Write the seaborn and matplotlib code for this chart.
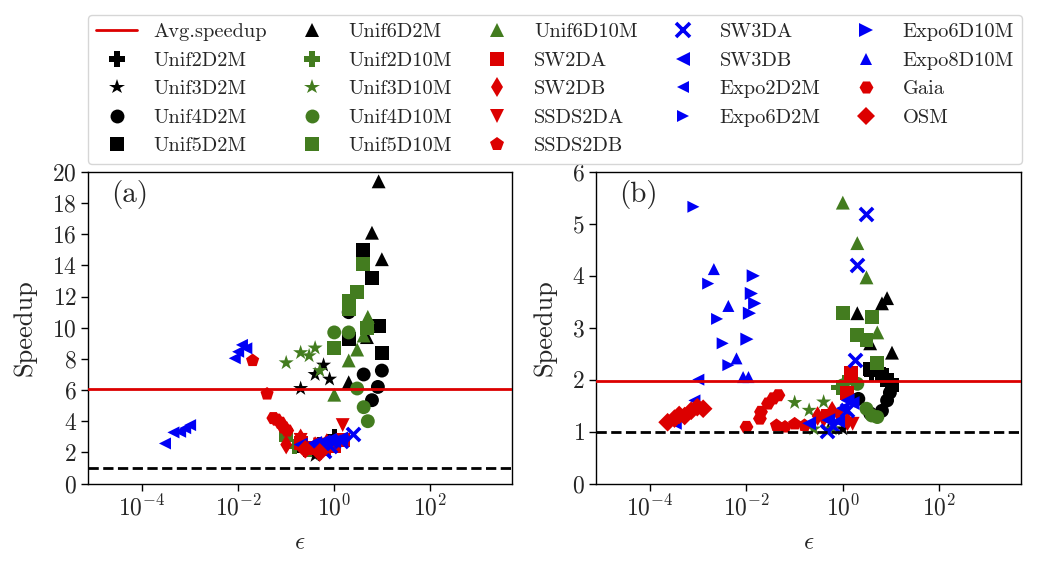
import numpy as np
import matplotlib
matplotlib.use("Agg")
import matplotlib.pyplot as plt
from matplotlib.lines import Line2D
from matplotlib.ticker import FixedLocator, NullLocator, LogFormatterSciNotation
import seaborn as sns

# ---------------- data: panel (a) ----------------
a_unif2d2m_eps = [0.25, 0.5, 1.0];                 a_unif2d2m_spd = [2.2, 2.5, 3.0]
a_unif3d2m_eps = [0.2, 0.4, 0.6, 0.8, 0.4];        a_unif3d2m_spd = [6.1, 7.0, 7.6, 6.7, 1.8]
a_unif4d2m_eps = [2.0, 4.1, 6.1, 8.1, 9.8];        a_unif4d2m_spd = [11.0, 7.0, 5.35, 6.2, 7.25]
a_unif5d2m_eps = [0.2, 2.0, 4.0, 6.1, 8.4, 9.8];   a_unif5d2m_spd = [2.4, 9.3, 15.0, 13.2, 10.1, 8.4]
a_unif6d2m_eps = [2.0, 4.8, 6.1, 8.4, 9.8];        a_unif6d2m_spd = [6.5, 9.4, 16.1, 19.4, 14.4]
a_unif2d10m_eps = [0.15, 0.3, 0.5];                a_unif2d10m_spd = [2.4, 2.2, 2.0]
a_unif3d10m_eps = [0.1, 0.2, 0.3, 0.4, 0.5];       a_unif3d10m_spd = [7.75, 8.4, 8.2, 8.7, 7.25]
a_unif4d10m_eps = [1.0, 2.0, 3.0, 4.1, 5.0];       a_unif4d10m_spd = [9.7, 9.7, 6.1, 4.9, 4.0]
a_unif5d10m_eps = [0.1, 1.0, 2.0, 2.0, 3.0, 4.0, 4.8]
a_unif5d10m_spd = [3.1, 8.7, 11.2, 11.7, 12.3, 14.1, 10.0]
a_unif6d10m_eps = [1.0, 2.0, 3.0, 4.1, 5.0, 5.0];  a_unif6d10m_spd = [5.7, 7.9, 8.6, 9.5, 10.2, 10.7]
a_sw2da_eps = [0.2, 0.35, 0.6, 1.0, 1.5];          a_sw2da_spd = [2.6, 2.3, 2.2, 2.4, 2.8]
a_sw2db_eps = [0.1, 0.2, 0.4, 0.7];                a_sw2db_spd = [2.5, 2.9, 2.4, 2.6]
a_ssds2da_eps = [1.5, 0.2, 0.5];                   a_ssds2da_spd = [3.75, 2.8, 2.5]
a_ssds2db_eps = [0.02, 0.04];                      a_ssds2db_spd = [7.9, 5.75]
a_sw3da_eps = [2.5, 1.4, 0.6, 0.8];                a_sw3da_spd = [3.2, 2.7, 2.1, 2.4]
a_sw3db_eps = [0.2, 0.3, 0.4, 0.5, 0.6, 0.8, 1.0, 1.4]
a_sw3db_spd = [2.5, 2.4, 2.6, 2.5, 2.7, 2.8, 2.7, 2.9]
a_expo2d2m_eps = [3.0e-4, 4.5e-4, 6.2e-4, 7.9e-4, 1.0e-3, 0.0085, 0.01, 0.012, 0.0148]
a_expo2d2m_spd = [2.57, 3.28, 3.32, 3.55, 3.75, 8.04, 8.46, 8.9, 8.68]
a_expo6d2m_eps = [];                               a_expo6d2m_spd = []
a_expo6d10m_eps = [];                              a_expo6d10m_spd = []
a_expo8d10m_eps = [];                              a_expo8d10m_spd = []
a_gaia_eps = [0.054, 0.063, 0.076, 0.089, 0.105];  a_gaia_spd = [4.2, 4.1, 3.9, 3.6, 3.4]
a_osm_eps = [0.25, 0.5];                           a_osm_spd = [2.2, 2.0]
a_avg_speedup = 6.05

# ---------------- data: panel (b) ----------------
b_unif2d2m_eps = [4.0, 5.6, 7.9];                  b_unif2d2m_spd = [2.1, 2.2, 2.0]
b_unif3d2m_eps = [0.5, 1.0];                       b_unif3d2m_spd = [1.03, 1.05]
b_unif4d2m_eps = [2.1, 3.7, 6.5, 8.3, 9.5];        b_unif4d2m_spd = [1.63, 1.35, 1.4, 1.6, 1.75]
b_unif5d2m_eps = [3.7, 6.5, 8.3, 10.5];            b_unif5d2m_spd = [2.2, 2.1, 2.0, 1.9]
b_unif6d2m_eps = [2.0, 3.7, 6.5, 8.3, 10.5];       b_unif6d2m_spd = [3.28, 2.70, 3.47, 3.57, 2.52]
b_unif2d10m_eps = [0.8, 1.1];                      b_unif2d10m_spd = [1.85, 1.95]
b_unif3d10m_eps = [0.1, 0.2, 0.4, 0.25, 0.6];      b_unif3d10m_spd = [1.56, 1.41, 1.57, 1.05, 1.05]
b_unif4d10m_eps = [1.0, 2.0, 3.1, 4.0, 5.2];       b_unif4d10m_spd = [1.89, 1.92, 1.44, 1.31, 1.28]
b_unif5d10m_eps = [1.0, 2.0, 3.1, 4.0, 5.2];       b_unif5d10m_spd = [3.28, 2.86, 2.76, 3.21, 2.32]
b_unif6d10m_eps = [1.0, 2.0, 3.1, 5.2];            b_unif6d10m_spd = [5.41, 4.63, 3.97, 2.91]
b_sw2da_eps = [1.5, 1.2, 0.5];                     b_sw2da_spd = [2.12, 1.75, 1.3]
b_sw2db_eps = [0.3, 0.6, 1.25];                    b_sw2db_spd = [1.3, 1.4, 1.2]
b_ssds2da_eps = [0.4, 0.8, 1.6];                   b_ssds2da_spd = [1.2, 1.3, 1.15]
b_ssds2db_eps = [0.042, 0.063, 0.1, 0.16];         b_ssds2db_spd = [1.12, 1.09, 1.15, 1.12]
b_sw3da_eps = [3.1, 2.0, 1.8, 1.2, 0.47, 0.63];    b_sw3da_spd = [5.19, 4.21, 2.37, 1.41, 1.02, 1.1]
b_sw3db_eps = [0.2, 0.5, 0.8, 1.0, 1.26, 1.6];     b_sw3db_spd = [1.16, 1.22, 1.2, 1.45, 1.6, 1.55]
b_expo2d2m_eps = [3.4e-4, 8.3e-4, 1.0e-3];         b_expo2d2m_spd = [1.15, 1.6, 2.0]
b_expo6d2m_eps = [7.9e-4, 1.6e-3, 2.45e-3, 3.2e-3, 4.2e-3]
b_expo6d2m_spd = [5.33, 3.85, 3.17, 2.70, 2.28]
b_expo6d10m_eps = [0.0102, 0.0115, 0.0126, 0.0138, 0.0148]
b_expo6d10m_spd = [2.78, 3.28, 3.66, 4.0, 3.47]
b_expo8d10m_eps = [2.1e-3, 4.2e-3, 6.2e-3, 8.5e-3, 0.011]
b_expo8d10m_spd = [4.13, 3.42, 2.41, 2.05, 2.05]
b_gaia_eps = [0.01, 0.019, 0.02, 0.028, 0.036, 0.046]
b_gaia_spd = [1.09, 1.25, 1.38, 1.54, 1.64, 1.70]
b_osm_eps = [2.3e-4, 3.2e-4, 4.0e-4, 5.2e-4, 7.1e-4, 9.5e-4, 1.26e-3]
b_osm_spd = [1.18, 1.25, 1.32, 1.3, 1.4, 1.47, 1.44]
b_avg_speedup = 1.97

baseline = 1.0

# ---------------- style ----------------
BLACK = "#000000"
GREEN = "#437c1f"
RED = "#dc0000"
BLUE = "#0000f5"

series = [
    # label, marker, color, size, key
    ("Unif2D2M", "P", BLACK, 120, "unif2d2m"),
    ("Unif3D2M", "*", BLACK, 130, "unif3d2m"),
    ("Unif4D2M", "o", BLACK, 100, "unif4d2m"),
    ("Unif5D2M", "s", BLACK, 100, "unif5d2m"),
    ("Unif6D2M", "^", BLACK, 100, "unif6d2m"),
    ("Unif2D10M", "P", GREEN, 120, "unif2d10m"),
    ("Unif3D10M", "*", GREEN, 130, "unif3d10m"),
    ("Unif4D10M", "o", GREEN, 100, "unif4d10m"),
    ("Unif5D10M", "s", GREEN, 100, "unif5d10m"),
    ("Unif6D10M", "^", GREEN, 100, "unif6d10m"),
    ("SW2DA", "s", RED, 100, "sw2da"),
    ("SW2DB", "d", RED, 100, "sw2db"),
    ("SSDS2DA", "v", RED, 100, "ssds2da"),
    ("SSDS2DB", "p", RED, 100, "ssds2db"),
    ("SW3DA", "x", BLUE, 90, "sw3da"),
    ("SW3DB", "<", BLUE, 100, "sw3db"),
    ("Expo2D2M", "<", BLUE, 75, "expo2d2m"),
    ("Expo6D2M", ">", BLUE, 75, "expo6d2m"),
    ("Expo6D10M", ">", BLUE, 90, "expo6d10m"),
    ("Expo8D10M", "^", BLUE, 75, "expo8d10m"),
    ("Gaia", "H", RED, 100, "gaia"),
    ("OSM", "D", RED, 90, "osm"),
]

sns.set_theme(style="ticks")
plt.rcParams["font.family"] = ["cmr10", "DejaVu Serif"]
plt.rcParams["mathtext.fontset"] = "cm"
plt.rcParams["axes.unicode_minus"] = False
plt.rcParams["axes.formatter.use_mathtext"] = True

W, H = 1037, 570
fig = plt.figure(figsize=(W / 100, H / 100), dpi=100)
axa = fig.add_axes([88 / W, 1 - 483.5 / H, 424 / W, 311.5 / H])
axb = fig.add_axes([596 / W, 1 - 483.5 / H, 425 / W, 311.5 / H])

g = globals()
for ax, pre, avg, ymax, ystep, tag in [
    (axa, "a", a_avg_speedup, 20, 2, "(a)"),
    (axb, "b", b_avg_speedup, 6, 1, "(b)"),
]:
    for label, m, c, s, key in series:
        xs = g[f"{pre}_{key}_eps"]
        ys = g[f"{pre}_{key}_spd"]
        if len(xs) == 0:
            continue
        if m == "x":
            sns.scatterplot(x=xs, y=ys, ax=ax, marker=m, color=c, s=s,
                            linewidth=2.6, legend=False, zorder=3)
        else:
            sns.scatterplot(x=xs, y=ys, ax=ax, marker=m, color=c, s=s,
                            linewidth=0, edgecolor="none", legend=False, zorder=3)
    ax.axhline(avg, color=RED, lw=2.0, zorder=4)
    ax.axhline(baseline, color=BLACK, lw=2.0, ls="--", zorder=4)
    ax.set_xscale("log")
    ax.set_xlim(10 ** -5.125, 10 ** 3.7)
    ax.set_ylim(0, ymax)
    ax.xaxis.set_major_locator(FixedLocator([1e-4, 1e-2, 1e0, 1e2]))
    ax.xaxis.set_major_formatter(LogFormatterSciNotation())
    ax.xaxis.set_minor_locator(NullLocator())
    ax.set_yticks(np.arange(0, ymax + 0.1, ystep))
    ax.tick_params(axis="both", which="major", labelsize=17, length=5, width=1.0,
                   direction="out", color="black", pad=3)
    for sp in ax.spines.values():
        sp.set_color("black")
        sp.set_linewidth(1.0)
    ax.set_xlabel(r"$\epsilon$", fontsize=18, labelpad=9)
    ax.set_ylabel("Speedup", fontsize=19, labelpad=11)
    ax.text(0.055, 0.975, tag, transform=ax.transAxes, fontsize=21, va="top", ha="left")

handles = [Line2D([], [], color=RED, lw=2.0)]
labels = ["Avg.speedup"]
for label, m, c, s, key in series:
    if m == "x":
        h = Line2D([], [], ls="none", marker=m, color=c, markersize=np.sqrt(s),
                   markeredgewidth=2.6)
    else:
        h = Line2D([], [], ls="none", marker=m, color=c, markersize=np.sqrt(s),
                   markeredgewidth=0)
    handles.append(h)
    labels.append(label)

fig.legend(handles, labels, ncol=5, loc="upper left",
           bbox_to_anchor=(88 / W, 1 - 15 / H, (1022 - 88) / W, 0.0),
           mode="expand", borderaxespad=0, fontsize=14.7, frameon=True,
           edgecolor="0.8", fancybox=True, handlelength=2.0,
           labelspacing=0.5, borderpad=0.4, handletextpad=0.8)

fig.savefig("out.png", dpi=100)
